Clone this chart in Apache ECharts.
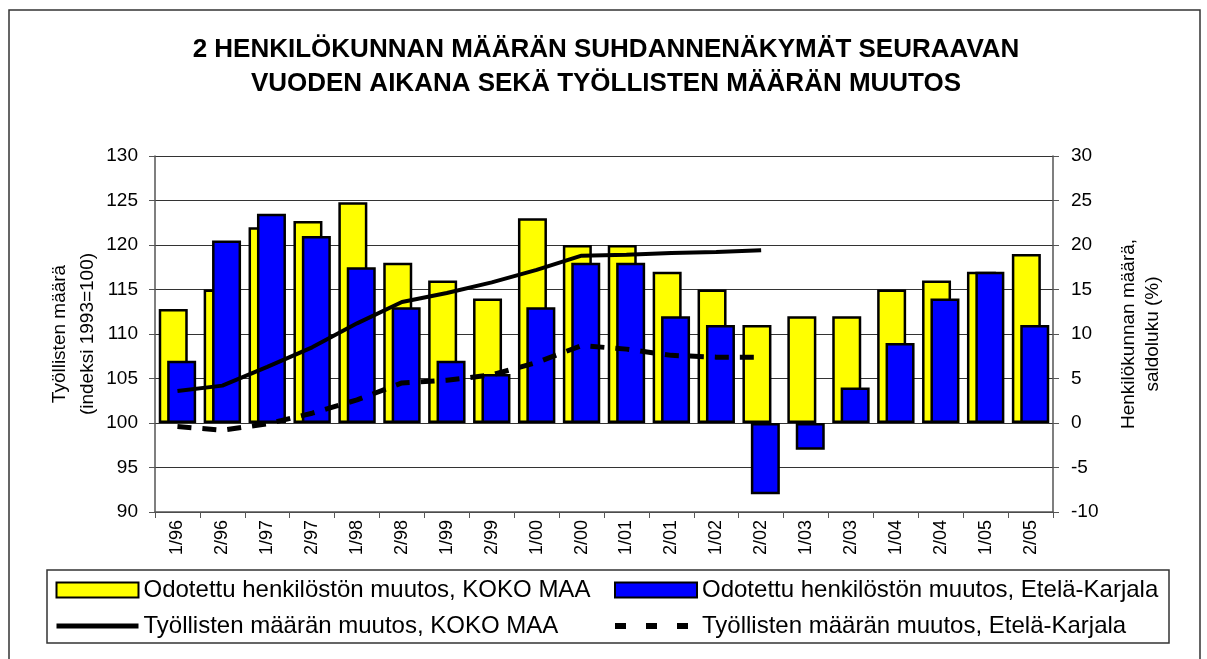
<!DOCTYPE html>
<html>
<head>
<meta charset="utf-8">
<script src="https://cdn.jsdelivr.net/npm/echarts@6/dist/echarts.min.js"></script>
<style>
  html, body { margin: 0; padding: 0; background: #fff; }
  #chart { width: 1207px; height: 659px; }
</style>
</head>
<body>
<div id="chart"></div>
<script>
// vuosipuoliskot
const categories = ['1/96', '2/96', '1/97', '2/97', '1/98', '2/98', '1/99', '2/99', '1/00', '2/00',
  '1/01', '2/01', '1/02', '2/02', '1/03', '2/03', '1/04', '2/04', '1/05', '2/05'];
// odotettu henkilöstön muutos, saldoluku (%)
const saldoKokoMaa = [12.8, 15, 22, 22.7, 24.8, 18, 16, 14, 23, 20, 20, 17, 15, 11, 12, 12, 15, 16, 17, 19];
const saldoEKarjala = [7, 20.5, 23.5, 21, 17.5, 13, 7, 5.5, 13, 18, 18, 12, 11, -8, -3, 4, 9, 14, 17, 11];
// työllisten määrä, indeksi 1993=100
const tyollisetKokoMaa = [103.6, 104.2, 106.3, 108.5, 111.2, 113.6, 114.6, 115.8, 117.2, 118.8,
  118.9, 119.1, 119.2, 119.4, null, null, null, null, null, null];
const tyollisetEKarjala = [99.6, 99.2, 99.9, 101.1, 102.6, 104.5, 104.8, 105.4, 106.8, 108.7,
  108.3, 107.6, 107.4, 107.4, null, null, null, null, null, null];

const names = [
  'Odotettu henkilöstön muutos, KOKO MAA',
  'Odotettu henkilöstön muutos, Etelä-Karjala',
  'Työllisten määrän muutos, KOKO MAA',
  'Työllisten määrän muutos, Etelä-Karjala'
];

const font = 'Liberation Sans, Arial, sans-serif';
const chart = echarts.init(document.getElementById('chart'));

const legendBase = {
  orient: 'vertical',
  itemWidth: 82,
  itemHeight: 15,
  itemGap: 12,
  padding: 0,
  selectedMode: false,
  textStyle: { fontFamily: font, fontSize: 24, color: '#000' }
};
// piilotetaan viivan symboli selitteestä
const noSymbol = { color: 'transparent', borderWidth: 0, opacity: 0 };

chart.setOption({
  animation: false,
  backgroundColor: '#fff',
  title: {
    text: '2 HENKILÖKUNNAN MÄÄRÄN SUHDANNENÄKYMÄT SEURAAVAN\nVUODEN AIKANA SEKÄ TYÖLLISTEN MÄÄRÄN MUUTOS',
    left: 606,
    top: 33,
    padding: 0,
    textAlign: 'center',
    textStyle: { fontFamily: font, fontSize: 26, fontWeight: 'bold', color: '#000', lineHeight: 34 }
  },
  graphic: [
    { type: 'rect', shape: { x: 9, y: 10, width: 1191, height: 680 }, style: { fill: 'none', stroke: '#333', lineWidth: 1.5 }, z: -1 },
    { type: 'rect', shape: { x: 47, y: 570, width: 1122, height: 73 }, style: { fill: 'none', stroke: '#333', lineWidth: 1.5 }, z: -1 }
  ],
  legend: [
    Object.assign({}, legendBase, {
      left: 54, top: 578,
      data: [
        { name: names[0], icon: 'rect', itemStyle: { color: '#ffff00', borderColor: '#000', borderWidth: 2 } },
        { name: names[2], lineStyle: { width: 5, color: '#000' }, itemStyle: noSymbol }
      ]
    }),
    Object.assign({}, legendBase, {
      left: 612, top: 578,
      data: [
        { name: names[1], icon: 'rect', itemStyle: { color: '#0000ff', borderColor: '#000', borderWidth: 2 } },
        { name: names[3], lineStyle: { width: 6, color: '#000', type: [11, 20] }, itemStyle: noSymbol }
      ]
    })
  ],
  grid: { left: 155, right: 154, top: 156, bottom: 147 },
  xAxis: {
    type: 'category',
    data: categories,
    boundaryGap: true,
    axisLine: { onZero: false, lineStyle: { color: '#555', width: 1.5 } },
    axisTick: { show: true, length: 6, lineStyle: { color: '#555' } },
    axisLabel: { rotate: 90, fontFamily: font, fontSize: 18, color: '#000', margin: 8, interval: 0 }
  },
  yAxis: [
    {
      type: 'value',
      min: 90, max: 130, interval: 5,
      name: 'Työllisten määrä\n(indeksi 1993=100)',
      nameLocation: 'middle',
      nameMoveOverlap: false,
      nameGap: 53,
      nameRotate: 90,
      nameTextStyle: { fontFamily: font, fontSize: 19, color: '#000', lineHeight: 28 },
      axisLine: { show: true, lineStyle: { color: '#555', width: 1.5 } },
      axisTick: { show: true, length: 6, lineStyle: { color: '#555' } },
      axisLabel: { fontFamily: font, fontSize: 19, color: '#000', margin: 17 },
      splitLine: { show: true, lineStyle: { color: '#333', width: 1 } }
    },
    {
      type: 'value',
      min: -10, max: 30, interval: 5,
      name: 'Henkilökunnan määrä,\nsaldoluku (%)',
      nameLocation: 'middle',
      nameGap: 64,
      nameRotate: 90,
      nameTextStyle: { fontFamily: font, fontSize: 19, color: '#000', lineHeight: 24 },
      axisLine: { show: true, lineStyle: { color: '#555', width: 1.5 } },
      axisTick: { show: true, length: 6, lineStyle: { color: '#555' } },
      axisLabel: { fontFamily: font, fontSize: 19, color: '#000', margin: 18 },
      splitLine: { show: false }
    }
  ],
  series: [
    {
      name: names[0],
      type: 'bar',
      yAxisIndex: 1,
      data: saldoKokoMaa,
      barWidth: 29,
      barGap: '-71%',
      itemStyle: { color: '#ffff00', borderColor: '#000', borderWidth: 2.5 }
    },
    {
      name: names[1],
      type: 'bar',
      yAxisIndex: 1,
      data: saldoEKarjala,
      barWidth: 29,
      barGap: '-71%',
      itemStyle: { color: '#0000ff', borderColor: '#000', borderWidth: 2.5 }
    },
    {
      name: names[2],
      type: 'line',
      yAxisIndex: 0,
      data: tyollisetKokoMaa,
      symbol: 'none',
      z: 5,
      lineStyle: { color: '#000', width: 4 },
      itemStyle: { color: '#000' }
    },
    {
      name: names[3],
      type: 'line',
      yAxisIndex: 0,
      data: tyollisetEKarjala,
      symbol: 'none',
      z: 5,
      lineStyle: { color: '#000', width: 5, type: [14, 11] },
      itemStyle: { color: '#000' }
    }
  ]
});
</script>
</body>
</html>
